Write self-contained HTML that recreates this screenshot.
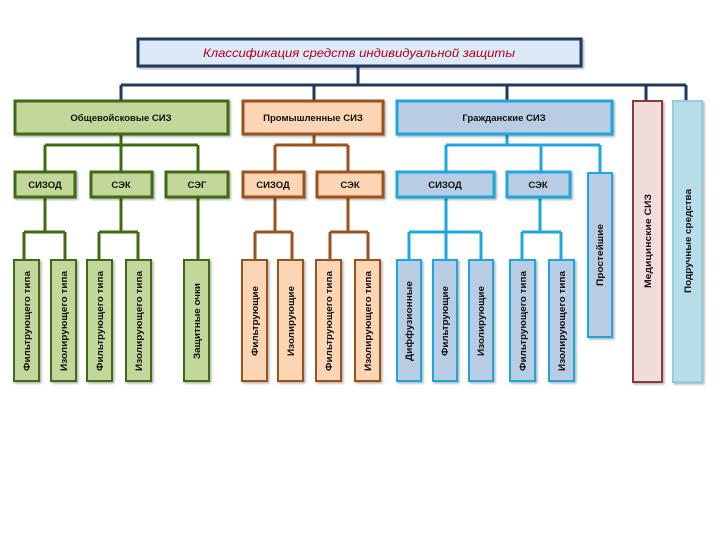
<!DOCTYPE html>
<html><head><meta charset="utf-8"><style>
html,body{margin:0;padding:0;background:#fff;width:720px;height:540px;overflow:hidden}
svg text{font-family:"Liberation Sans","DejaVu Sans",sans-serif;font-weight:bold;fill:#111}
</style></head><body>
<svg width="720" height="540" viewBox="0 0 720 540" xmlns="http://www.w3.org/2000/svg">
<defs><filter id="sh" x="-20%" y="-20%" width="150%" height="150%"><feDropShadow dx="1.5" dy="1.5" stdDeviation="1" flood-color="#000" flood-opacity="0.3"/></filter></defs>
<!-- top connectors -->
<g stroke="#1f3a5f" stroke-width="3" fill="none">
<path d="M358 67V85 M121 85H686 M121 85V100 M314 85V100 M507 85V100 M646 85V100 M686 85V100"/>
</g>
<rect x="138" y="39" width="443" height="27" fill="#dce9f6" stroke="#1f3a5f" stroke-width="3" filter="url(#sh)"/>
<text x="359" y="57" text-anchor="middle" font-size="12" font-style="italic" style="fill:#b0001e;font-weight:normal" textLength="312" lengthAdjust="spacingAndGlyphs">Классификация средств индивидуальной защиты</text>

<!-- green -->
<g stroke="#3f6b12" stroke-width="3" fill="none">
<path d="M121 134V145 M45 145H198 M45 145V171 M121 145V171 M198 145V171"/>
<path d="M45 197V232 M24 232H65 M24 232V260 M65 232V260 M121 197V232 M99 232H138 M99 232V260 M138 232V260 M198 197V260"/>
</g>
<g fill="#c4d79b" stroke="#3f6b12" filter="url(#sh)">
<rect x="15" y="101" width="213" height="33" stroke-width="3"/>
<rect x="15" y="172" width="60" height="25" stroke-width="3"/>
<rect x="91" y="172" width="61" height="25" stroke-width="3"/>
<rect x="166" y="172" width="62" height="25" stroke-width="3"/>
<rect x="14" y="260" width="25" height="121" stroke-width="2"/>
<rect x="51" y="260" width="25" height="121" stroke-width="2"/>
<rect x="87" y="260" width="25" height="121" stroke-width="2"/>
<rect x="126" y="260" width="25" height="121" stroke-width="2"/>
<rect x="184" y="260" width="25" height="121" stroke-width="2"/>
</g>
<!-- orange -->
<g stroke="#9a531c" stroke-width="3" fill="none">
<path d="M314 134V145 M275 145H348 M275 145V171 M348 145V171"/>
<path d="M275 197V232 M255 232H292 M255 232V260 M292 232V260 M348 197V232 M330 232H368 M330 232V260 M368 232V260"/>
</g>
<g fill="#fcd5b4" stroke="#9a531c" filter="url(#sh)">
<rect x="243" y="101" width="140" height="33" stroke-width="3"/>
<rect x="243" y="172" width="61" height="25" stroke-width="3"/>
<rect x="317" y="172" width="66" height="25" stroke-width="3"/>
<rect x="242" y="260" width="25" height="121" stroke-width="2"/>
<rect x="278" y="260" width="25" height="121" stroke-width="2"/>
<rect x="316" y="260" width="25" height="121" stroke-width="2"/>
<rect x="355" y="260" width="25" height="121" stroke-width="2"/>
</g>
<!-- blue -->
<g stroke="#1ea7de" stroke-width="3" fill="none">
<path d="M507 134V145 M446 145H600 M446 145V171 M541 145V171 M600 145V172"/>
<path d="M446 197V232 M409 232H481 M409 232V260 M446 232V260 M481 232V260 M540 197V232 M522 232H561 M522 232V260 M561 232V260"/>
</g>
<g fill="#b8cce4" stroke="#1ea7de" filter="url(#sh)">
<rect x="397" y="101" width="215" height="33" stroke-width="3"/>
<rect x="397" y="172" width="97" height="25" stroke-width="3"/>
<rect x="507" y="172" width="63" height="25" stroke-width="3"/>
<rect x="588" y="173" width="24" height="164" stroke-width="2"/>
<rect x="397" y="260" width="24" height="121" stroke-width="2"/>
<rect x="433" y="260" width="24" height="121" stroke-width="2"/>
<rect x="469" y="260" width="24" height="121" stroke-width="2"/>
<rect x="510" y="260" width="25" height="121" stroke-width="2"/>
<rect x="549" y="260" width="25" height="121" stroke-width="2"/>
</g>
<rect x="633" y="101" width="29" height="281" fill="#f2dcdb" stroke="#8c3a3a" stroke-width="2" filter="url(#sh)"/>
<rect x="673" y="101" width="29" height="281" fill="#b7dde8" stroke="#93cddd" stroke-width="2" filter="url(#sh)"/>

<!-- horizontal labels -->
<g font-size="9.5" text-anchor="middle">
<text x="121" y="121">Общевойсковые СИЗ</text>
<text x="313" y="121">Промышленные СИЗ</text>
<text x="504" y="121">Гражданские СИЗ</text>
<text x="45" y="188">СИЗОД</text>
<text x="121" y="188">СЭК</text>
<text x="197" y="188">СЭГ</text>
<text x="273" y="188">СИЗОД</text>
<text x="350" y="188">СЭК</text>
<text x="445" y="188">СИЗОД</text>
<text x="538" y="188">СЭК</text>
</g>
<!-- vertical labels -->
<g font-size="9" text-anchor="middle">
<text transform="translate(30,321) rotate(-90)" textLength="100" lengthAdjust="spacingAndGlyphs">Фильтрующего типа</text>
<text transform="translate(67,321) rotate(-90)" textLength="100" lengthAdjust="spacingAndGlyphs">Изолирующего типа</text>
<text transform="translate(103,321) rotate(-90)" textLength="100" lengthAdjust="spacingAndGlyphs">Фильтрующего типа</text>
<text transform="translate(142,321) rotate(-90)" textLength="100" lengthAdjust="spacingAndGlyphs">Изолирующего типа</text>
<text transform="translate(200,321) rotate(-90)" textLength="76" lengthAdjust="spacingAndGlyphs">Защитные очки</text>
<text transform="translate(258,321) rotate(-90)" textLength="70" lengthAdjust="spacingAndGlyphs">Фильтрующие</text>
<text transform="translate(294,321) rotate(-90)" textLength="70" lengthAdjust="spacingAndGlyphs">Изолирующие</text>
<text transform="translate(332,321) rotate(-90)" textLength="100" lengthAdjust="spacingAndGlyphs">Фильтрующего типа</text>
<text transform="translate(371,321) rotate(-90)" textLength="100" lengthAdjust="spacingAndGlyphs">Изолирующего типа</text>
<text transform="translate(412,321) rotate(-90)" textLength="80" lengthAdjust="spacingAndGlyphs">Диффузионные</text>
<text transform="translate(448,321) rotate(-90)" textLength="70" lengthAdjust="spacingAndGlyphs">Фильтрующие</text>
<text transform="translate(484,321) rotate(-90)" textLength="70" lengthAdjust="spacingAndGlyphs">Изолирующие</text>
<text transform="translate(526,321) rotate(-90)" textLength="100" lengthAdjust="spacingAndGlyphs">Фильтрующего типа</text>
<text transform="translate(565,321) rotate(-90)" textLength="100" lengthAdjust="spacingAndGlyphs">Изолирующего типа</text>
<text transform="translate(603,255) rotate(-90)" textLength="62" lengthAdjust="spacingAndGlyphs">Простейшие</text>
<text transform="translate(651,241) rotate(-90)" textLength="94" lengthAdjust="spacingAndGlyphs">Медицинские СИЗ</text>
<text transform="translate(691,241) rotate(-90)" textLength="104" lengthAdjust="spacingAndGlyphs">Подручные средства</text>
</g>
</svg>
</body></html>
